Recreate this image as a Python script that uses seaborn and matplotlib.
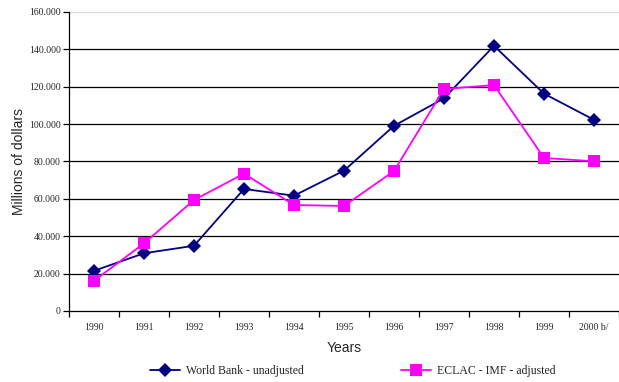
import matplotlib
matplotlib.use("Agg")
import matplotlib.pyplot as plt
import matplotlib.ticker as mticker
import seaborn as sns
import pandas as pd
import numpy as np

years = ["1990", "1991", "1992", "1993", "1994", "1995", "1996",
         "1997", "1998", "1999", "2000 b/"]
world_bank = [21500, 30900, 34900, 65300, 61700, 75100, 99100,
              113800, 141900, 116300, 102300]
eclac_imf = [16200, 36200, 59400, 73500, 56700, 56200, 74900,
             118800, 120900, 81900, 80100]
y_ticks = [0, 20000, 40000, 60000, 80000, 100000, 120000, 140000, 160000]

sns.set_theme(style="white")
serif = "Liberation Serif"
sans = "Liberation Sans"

pos = np.arange(len(years))
df = pd.DataFrame({
    "pos": np.concatenate([pos, pos]),
    "value": world_bank + eclac_imf,
    "series": ["World Bank - unadjusted"] * len(years)
              + ["ECLAC - IMF - adjusted"] * len(years),
})

fig = plt.figure(figsize=(6.19, 3.82), dpi=100)
ax = fig.add_axes([0.1115, 0.1859, 0.8885, 0.7827])

# horizontal grid lines
for v in y_ticks[1:-1]:
    ax.axhline(v, color="black", lw=0.9, zorder=0)
ax.axhline(y_ticks[-1], color="#d8d8d8", lw=0.9, zorder=0)

sns.lineplot(data=df, x="pos", y="value", hue="series", style="series",
             palette={"World Bank - unadjusted": "#000080",
                      "ECLAC - IMF - adjusted": "#ff00ff"},
             markers={"World Bank - unadjusted": "D",
                      "ECLAC - IMF - adjusted": "s"},
             dashes=False, markersize=7, linewidth=1.3,
             markeredgewidth=0, ax=ax, legend=False, zorder=3)
for line, ms in zip(ax.lines[-2:], [7, 8.5]):
    line.set_markersize(ms)
    line.set_clip_on(False)

ax.set_xlim(-0.5, len(years) - 0.5)
ax.set_ylim(0, 160000)

ax.set_xticks(np.arange(-0.5, len(years), 1.0))
ax.set_xticklabels([])
ax.set_xticks(pos, minor=True)
ax.set_xticklabels(years, minor=True, fontfamily=serif, fontsize=7)
ax.tick_params(axis="x", which="major", direction="out", length=4,
               width=0.9, color="black", bottom=True)
ax.tick_params(axis="x", which="minor", length=0, pad=9)

ax.set_yticks(y_ticks)
ax.yaxis.set_major_formatter(mticker.FuncFormatter(
    lambda v, p: "0" if v == 0 else f"{int(v):,}".replace(",", ".")))
for lab in ax.get_yticklabels():
    lab.set_fontfamily(serif)
    lab.set_fontsize(7)
ax.tick_params(axis="y", direction="out", length=4, width=0.9,
               color="black", left=True, pad=2)

for s in ["top", "right"]:
    ax.spines[s].set_visible(False)
for s in ["left", "bottom"]:
    ax.spines[s].set_color("black")
    ax.spines[s].set_linewidth(0.9)

ax.set_xlabel("Years", fontfamily=sans, fontsize=10, labelpad=6)
ax.set_ylabel("Millions of dollars", fontfamily=sans, fontsize=10, labelpad=2)

handles = [
    plt.Line2D([], [], color="#000080", marker="D", markersize=7,
               markeredgewidth=0, lw=1.3),
    plt.Line2D([], [], color="#ff00ff", marker="s", markersize=8.5,
               markeredgewidth=0, lw=1.3),
]
fig.legend(handles, ["World Bank - unadjusted", "ECLAC - IMF - adjusted"],
           loc="center", bbox_to_anchor=(0.57, 0.029), ncol=2,
           frameon=False, columnspacing=8.3, handlelength=2.5,
           handletextpad=0.5,
           prop={"family": serif, "size": 8.5})

fig.savefig("out.png", dpi=100)
